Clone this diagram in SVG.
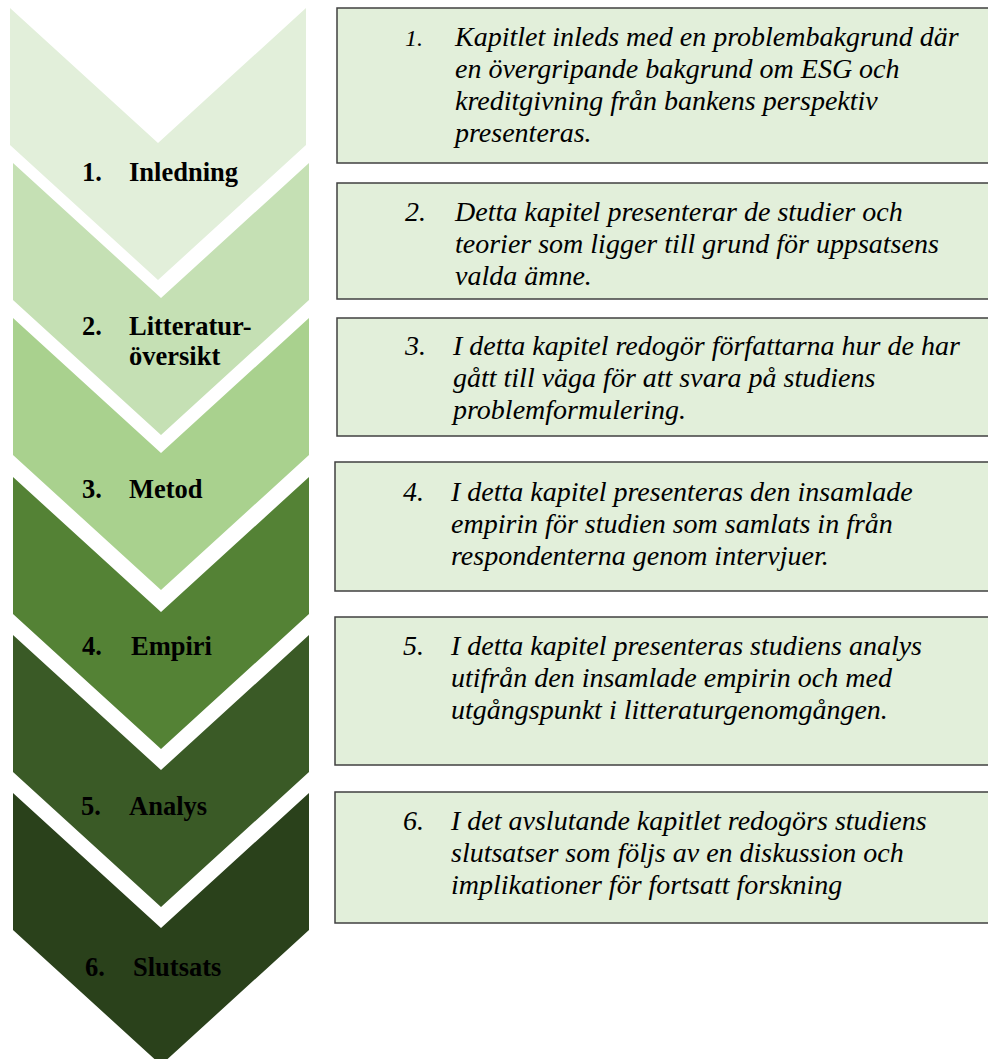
<svg xmlns="http://www.w3.org/2000/svg" width="988" height="1059" viewBox="0 0 988 1059">
<style>
.lbl{font-family:"Liberation Serif","Times New Roman",serif;font-weight:bold;font-size:26.5px;fill:#000}
.box{fill:#E2EFDA;stroke:#404040;stroke-width:1.5}
.txt{font-family:"Liberation Serif","Times New Roman",serif;font-style:italic;font-size:28px;fill:#000}
.num1{font-size:24px}
</style>
<rect width="988" height="1059" fill="#fff"/>
<g id="connectors"></g>
<g id="chevron1">
<polygon points="10,8 158,143 306,8 306,145 158,280 10,145" fill="#E2EFDA"/>
<text class="lbl" x="82" y="181">1.</text><text class="lbl" x="129" y="181">Inledning</text>
</g>
<g id="chevron2">
<polygon points="13,163 161,298 309,163 309,300 161,435 13,300" fill="#C5E0B4"/>
<text class="lbl" x="82" y="335">2.</text><text class="lbl" x="129" y="335">Litteratur-</text>
<text class="lbl" x="129" y="365">översikt</text>
</g>
<g id="chevron3">
<polygon points="13,318 161,453 309,318 309,455 161,590 13,455" fill="#A9D18E"/>
<text class="lbl" x="82" y="498">3.</text><text class="lbl" x="129" y="498">Metod</text>
</g>
<g id="chevron4">
<polygon points="13,477 161,612 309,477 309,614 161,749 13,614" fill="#548235"/>
<text class="lbl" x="82" y="655">4.</text><text class="lbl" x="131" y="655">Empiri</text>
</g>
<g id="chevron5">
<polygon points="13,635 161,770 309,635 309,772 161,907 13,772" fill="#3A5A26"/>
<text class="lbl" x="81" y="815">5.</text><text class="lbl" x="129" y="815">Analys</text>
</g>
<g id="chevron6">
<polygon points="13,793 161,928 309,793 309,930 161,1065 13,930" fill="#2A411B"/>
<text class="lbl" x="85" y="976">6.</text><text class="lbl" x="133" y="976">Slutsats</text>
</g>
<g id="box1">
<rect class="box" x="337" y="8" width="660" height="155"/>
<text class="txt num1" x="405" y="46">1.</text>
<text class="txt" x="455" y="46">Kapitlet inleds med en problembakgrund där</text>
<text class="txt" x="455" y="78">en övergripande bakgrund om ESG och</text>
<text class="txt" x="455" y="110">kreditgivning från bankens perspektiv</text>
<text class="txt" x="455" y="142">presenteras.</text>
</g>
<g id="box2">
<rect class="box" x="337" y="183" width="660" height="116"/>
<text class="txt" x="405" y="221">2.</text>
<text class="txt" x="455" y="221">Detta kapitel presenterar de studier och</text>
<text class="txt" x="455" y="253">teorier som ligger till grund för uppsatsens</text>
<text class="txt" x="455" y="285">valda ämne.</text>
</g>
<g id="box3">
<rect class="box" x="337" y="318" width="660" height="118"/>
<text class="txt" x="405" y="355">3.</text>
<text class="txt" x="453" y="355">I detta kapitel redogör författarna hur de har</text>
<text class="txt" x="453" y="387">gått till väga för att svara på studiens</text>
<text class="txt" x="453" y="419">problemformulering.</text>
</g>
<g id="box4">
<rect class="box" x="335" y="462" width="662" height="129"/>
<text class="txt" x="403" y="501">4.</text>
<text class="txt" x="451" y="501">I detta kapitel presenteras den insamlade</text>
<text class="txt" x="451" y="533">empirin för studien som samlats in från</text>
<text class="txt" x="451" y="565">respondenterna genom intervjuer.</text>
</g>
<g id="box5">
<rect class="box" x="335" y="617" width="662" height="148"/>
<text class="txt" x="403" y="655">5.</text>
<text class="txt" x="451" y="655">I detta kapitel presenteras studiens analys</text>
<text class="txt" x="451" y="687">utifrån den insamlade empirin och med</text>
<text class="txt" x="451" y="719">utgångspunkt i litteraturgenomgången.</text>
</g>
<g id="box6">
<rect class="box" x="335" y="792" width="662" height="131"/>
<text class="txt" x="403" y="830">6.</text>
<text class="txt" x="451" y="830">I det avslutande kapitlet redogörs studiens</text>
<text class="txt" x="451" y="862">slutsatser som följs av en diskussion och</text>
<text class="txt" x="451" y="894">implikationer för fortsatt forskning</text>
</g>
</svg>
